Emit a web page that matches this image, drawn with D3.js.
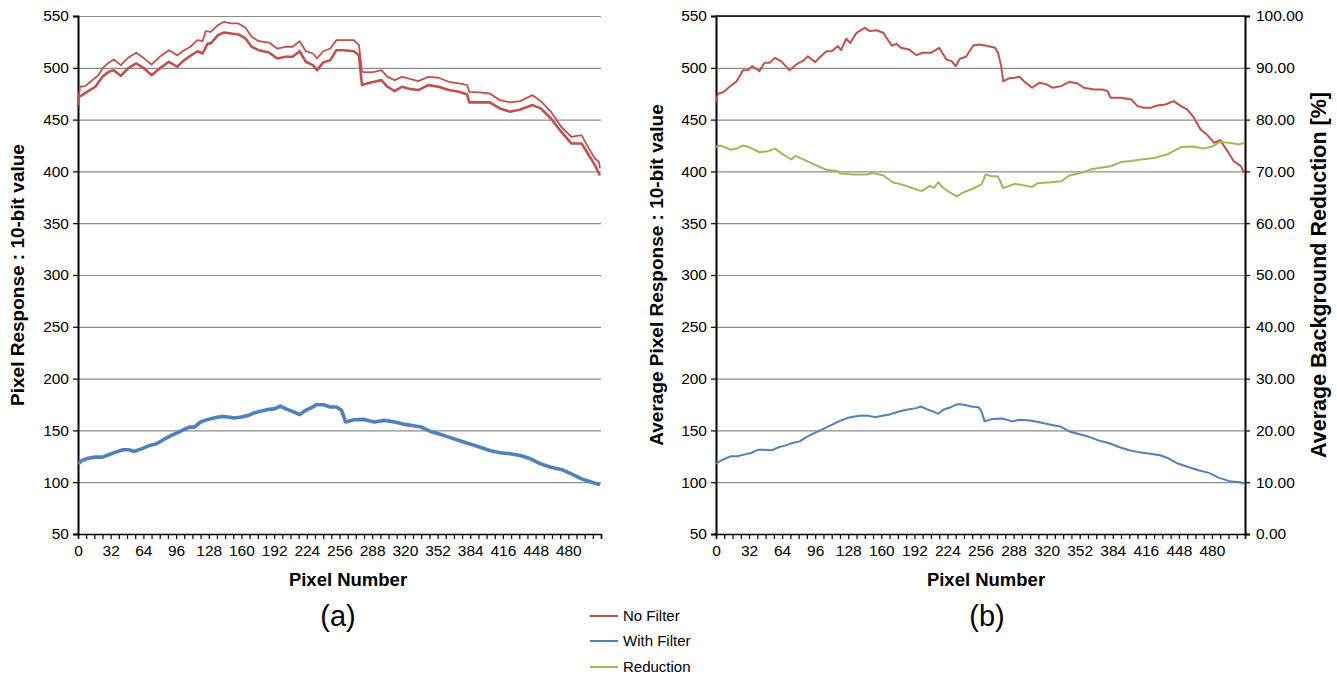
<!DOCTYPE html>
<html><head><meta charset="utf-8">
<script src="https://cdn.jsdelivr.net/npm/d3@7"></script>
<style>
body{margin:0;background:#fff;}
svg text{font-family:"Liberation Sans",Arial,sans-serif;fill:#000;}
</style></head>
<body><svg id="c" width="1337" height="674"></svg>
<script>
// ---------- data (pixel index, value) ----------
const xTickLabels = [0,32,64,96,128,160,192,224,256,288,320,352,384,416,448,480];
const leftTicks = [50,100,150,200,250,300,350,400,450,500,550];
const rightTicks = [0,10,20,30,40,50,60,70,80,90,100];
const legendLabels = ["No Filter","With Filter","Reduction"];

// (a) No Filter – upper trace
const noFilterUpper = [[0,466],[1,474],[2,481.7],[7,482.3],[12,486.5],[17,490.4],[20,492.9],[24,499.4],[29,504.2],[35,508],[42,502.6],[49,509.6],[57,514.5],[64,509.6],[72,503.2],[80,510.6],[89,517],[97,512.2],[104,517],[110,520.3],[117,526.7],[122,525.7],[125,535.4],[130,534.7],[137,541.2],[143,544.4],[150,542.8],[157,542.8],[164,538.6],[170,529.9],[177,525.7],[187,524.4],[195,518.6],[203,520.3],[210,520.3],[217,525.7],[223,516],[230,513.8],[234,509],[240,516],[247,518.6],[253,526.7],[260,526.7],[270,526.7],[275,521.9],[278,496.1],[283,495.5],[290,496.1],[297,497.7],[303,491.3],[310,488.1],[317,491.3],[326,489.1],[333,487.1],[343,491.3],[353,490.4],[363,486.5],[373,484.9],[381,483.3],[383,476.8],[393,476.2],[403,475.2],[413,468.8],[423,466.6],[433,467.8],[445,473.6],[453,467.8],[463,457.6],[473,443.1],[483,433.4],[493,435],[500,422.2],[506,412.5],[510,409.3],[511,403]];
// (a) No Filter – lower traces
const noFilterLower = [[0,464],[1,472],[4,473.6],[10,477.5],[17,481.7],[24,491.3],[30,496.1],[35,497.7],[42,492.3],[49,499.4],[57,504.2],[64,500],[72,492.9],[80,499.4],[89,505.8],[97,501],[104,507.4],[110,511.6],[117,516],[122,513.8],[127,523.5],[130,523.5],[137,531.5],[143,534.1],[150,533.1],[157,532.2],[164,528.3],[170,520.3],[177,517],[187,514.8],[195,509],[203,510.6],[210,510.6],[217,516],[223,505.8],[230,502.6],[234,497.7],[240,505.1],[247,507.4],[253,517],[260,517],[270,516],[275,512.2],[278,483.3],[283,484.9],[290,486.5],[297,488.1],[303,481.7],[310,477.5],[317,481.7],[326,479.4],[333,478.5],[343,483.3],[353,481.7],[363,478.5],[373,476.8],[381,474.3],[383,466.6],[393,466.6],[403,466.6],[413,460.8],[423,457.6],[433,459.8],[445,464],[453,460.8],[463,451.1],[473,438.3],[483,427],[493,427],[500,415.8],[506,406.1],[511,396]];
// (a) With Filter traces
const withFilterAll = [[0,117.7],[4,121],[10,123.2],[17,124.2],[24,124.2],[30,126.5],[37,129],[44,131.3],[50,131.3],[55,129.7],[64,132.9],[70,135.5],[77,137.1],[84,141.3],[90,144.5],[97,147.7],[104,151],[109,153.2],[114,153.2],[120,158.1],[127,160.6],[133,161.9],[140,163.5],[147,162.9],[153,161.9],[160,162.9],[167,164.5],[173,167.1],[180,168.7],[187,170.3],[193,171],[198,173.5],[203,171],[210,168.4],[217,165.2],[223,169.4],[230,172.6],[233,174.8],[240,174.8],[247,172.6],[253,172.6],[258,169.4],[262,158.1],[270,160.3],[280,160.6],[290,158.1],[300,159.7],[310,158.1],[320,155.8],[330,154.2],[336,153.2],[345,149],[353,146.8],[363,143.5],[373,140.3],[383,137.1],[393,133.9],[403,130.6],[413,128.4],[423,127.4],[433,125.8],[443,122.6],[453,117.7],[463,114.5],[473,112.3],[483,108.1],[493,103.2],[503,100],[511,97.4]];

// (b) Average No Filter
const avgNoFilter = [[0,467.8],[2,475],[7,476.5],[12,480.7],[17,484.6],[20,487],[23,492],[26,497.7],[31,497.7],[35,501.6],[42,496.8],[47,504.8],[52,504.8],[57,509.6],[63,506.4],[71,497.7],[80,504.8],[84,506.4],[89,511.2],[96,505.5],[100,509.6],[107,516],[112,516],[118,520.9],[121,517],[126,528],[130,524],[136,533.8],[144,538.6],[149,535.4],[155,536.3],[162,533.8],[165,529],[170,521.5],[175,523],[179,519.3],[187,517.7],[194,512.2],[200,514.5],[208,514.5],[216,519.3],[223,508],[228,506.4],[232,501.6],[236,508.7],[242,510.6],[249,521.5],[255,522.5],[263,521],[270,519.3],[273,514.5],[276,501.6],[278,487],[283,489.6],[289,490.4],[294,491.3],[298,487],[306,480.7],[313,485.5],[320,484],[326,480.7],[334,482.3],[342,486.5],[350,484.9],[356,480.7],[366,479],[374,479],[379,477.5],[382,471],[392,471],[402,469.5],[408,463],[414,461.4],[421,461.4],[427,463.7],[435,464.6],[443,467.8],[450,463],[456,459.8],[462,452.7],[469,440.5],[475,435.7],[482,427.7],[488,430.2],[495,419.6],[501,410],[508,405.1],[511,398.7]];
// (b) Average With Filter
const avgWithFilter = [[0,118],[1,118.6],[8,122.4],[14,125],[21,125],[27,126.6],[34,128.2],[41,131.4],[47,131.4],[54,130.8],[61,134],[67,135.3],[74,137.8],[81,139.4],[87,143.3],[94,146.8],[101,150],[107,152.9],[114,156.4],[121,159.6],[127,161.9],[134,163.5],[141,164.4],[147,164.1],[154,162.8],[161,164.1],[167,165.1],[174,167.3],[181,169.2],[187,170.5],[194,171.5],[198,173.1],[204,170.5],[210,168.3],[215,166],[220,169.9],[227,172.4],[234,175.3],[240,174.7],[247,173.1],[254,172.4],[257,168.3],[260,158.7],[267,160.9],[277,161.5],[287,158.7],[294,160.3],[304,159.6],[314,157.7],[324,155.4],[333,153.8],[342,149],[350,146.8],[360,144.2],[370,140.4],[380,137.8],[390,134],[400,130.8],[410,128.8],[420,127.5],[430,126],[437,123.4],[447,118],[457,114.7],[467,111.5],[477,109],[487,104.2],[497,101],[507,100],[511,98.7]];
// (b) Reduction [%]
const reductionPct = [[0,74.7],[4,75.0],[14,74.2],[20,74.4],[26,75.0],[33,74.6],[42,73.7],[50,73.9],[57,74.4],[65,73.3],[73,72.3],[77,73.0],[88,72.0],[100,70.9],[107,70.3],[117,70.1],[120,69.6],[133,69.4],[146,69.4],[152,69.7],[162,69.2],[171,67.9],[181,67.4],[190,66.8],[199,66.2],[207,67.2],[211,66.8],[215,67.9],[220,66.8],[226,66.0],[233,65.2],[239,65.9],[249,66.7],[257,67.5],[261,69.4],[266,69.1],[273,69.0],[278,66.8],[289,67.6],[298,67.3],[306,67.0],[311,67.7],[324,67.9],[334,68.1],[342,69.2],[353,69.7],[363,70.4],[372,70.7],[382,71.0],[392,71.8],[402,72.0],[411,72.3],[424,72.6],[437,73.3],[450,74.7],[462,74.8],[472,74.4],[480,74.8],[488,75.7],[498,75.5],[506,75.2],[511,75.5]];

// ---------- drawing ----------
const red = "#C0504D", blue = "#4F81BD", green = "#9BBB59";
const svg = d3.select("#c");
const yL = d3.scaleLinear().domain([50,550]).range([534,16]);
const yR = d3.scaleLinear().domain([0,100]).range([534,16]);

function panel(x0, x1) {
  const x = d3.scaleLinear().domain([0,512]).range([x0,x1]);
  const g = svg.append("g");
  g.selectAll("line.grid").data(leftTicks.filter(t=>t>50)).join("line")
    .attr("x1",x0).attr("x2",x1).attr("y1",d=>yL(d)+0.5).attr("y2",d=>yL(d)+0.5)
    .attr("stroke","#8c8c8c").attr("stroke-width",1.2);
  const ax = g.append("g").attr("transform",`translate(${x0},0)`)
    .call(d3.axisLeft(yL).tickValues(leftTicks).tickSize(5).tickPadding(4).tickFormat(d3.format("d")));
  ax.select(".domain").attr("stroke","#000").attr("stroke-width",2);
  ax.selectAll(".tick line").attr("stroke","#000").attr("stroke-width",1.2);
  ax.selectAll("text").style("font-size","15.5px");
  const bx = g.append("g").attr("transform",`translate(0,${yL(50)})`)
    .call(d3.axisBottom(x).tickValues(d3.range(0,513,8)).tickSize(5).tickPadding(6)
      .tickFormat(d => xTickLabels.includes(d) ? d : ""));
  bx.select(".domain").attr("stroke","#000").attr("stroke-width",1.5);
  bx.selectAll(".tick line").attr("stroke","#000").attr("stroke-width",1.2);
  bx.selectAll("text").style("font-size","15.5px");
  return {x, g};
}

function drawLine(g, x, y, data, color, w) {
  g.append("path").datum(data)
    .attr("fill","none").attr("stroke",color).attr("stroke-width",w).attr("stroke-linejoin","round")
    .attr("d", d3.line().x(d=>x(d[0])).y(d=>y(d[1])));
}

const A = panel(78, 601);
drawLine(A.g, A.x, yL, withFilterAll, blue, 3.6);
drawLine(A.g, A.x, yL, noFilterLower, red, 2.6);
drawLine(A.g, A.x, yL, noFilterUpper, red, 1.8);

const B = panel(716, 1245);
B.g.append("line").attr("x1",716).attr("x2",1245).attr("y1",16).attr("y2",16).attr("stroke","#000").attr("stroke-width",1.5);
const ra = B.g.append("g").attr("transform","translate(1245,0)")
  .call(d3.axisRight(yR).tickValues(rightTicks).tickSize(5).tickPadding(6).tickFormat(d3.format(".2f")));
ra.select(".domain").attr("stroke","#000").attr("stroke-width",2);
ra.selectAll(".tick line").attr("stroke","#000").attr("stroke-width",1.2);
ra.selectAll("text").style("font-size","15.5px");
drawLine(B.g, B.x, yL, avgNoFilter, red, 2);
drawLine(B.g, B.x, yL, avgWithFilter, blue, 2);
drawLine(B.g, B.x, yR, reductionPct, green, 2);

function rotText(x, y, t, size) {
  svg.append("text").attr("transform",`translate(${x},${y}) rotate(-90)`)
    .attr("text-anchor","middle").style("font-size",size+"px").style("font-weight","bold").text(t);
}
rotText(24, 275, "Pixel Response : 10-bit value", 19);
rotText(663, 275, "Average Pixel Response : 10-bit value", 19);
rotText(1326, 275, "Average Background Reduction [%]", 21.5);
svg.append("text").attr("x",348).attr("y",586).attr("text-anchor","middle").style("font-size","18.5px").style("font-weight","bold").text("Pixel Number");
svg.append("text").attr("x",986).attr("y",586).attr("text-anchor","middle").style("font-size","18.5px").style("font-weight","bold").text("Pixel Number");
svg.append("text").attr("x",338).attr("y",626).attr("text-anchor","middle").style("font-size","29px").text("(a)");
svg.append("text").attr("x",987).attr("y",626).attr("text-anchor","middle").style("font-size","29px").text("(b)");

const lg = svg.append("g");
[red,blue,green].forEach((c,i)=>{
  const yy = [616,641,667][i];
  lg.append("line").attr("x1",590).attr("x2",618).attr("y1",yy).attr("y2",yy).attr("stroke",c).attr("stroke-width",2);
  lg.append("text").attr("x",623).attr("y",yy+5).style("font-size","15px").text(legendLabels[i]);
});
</script></body></html>
